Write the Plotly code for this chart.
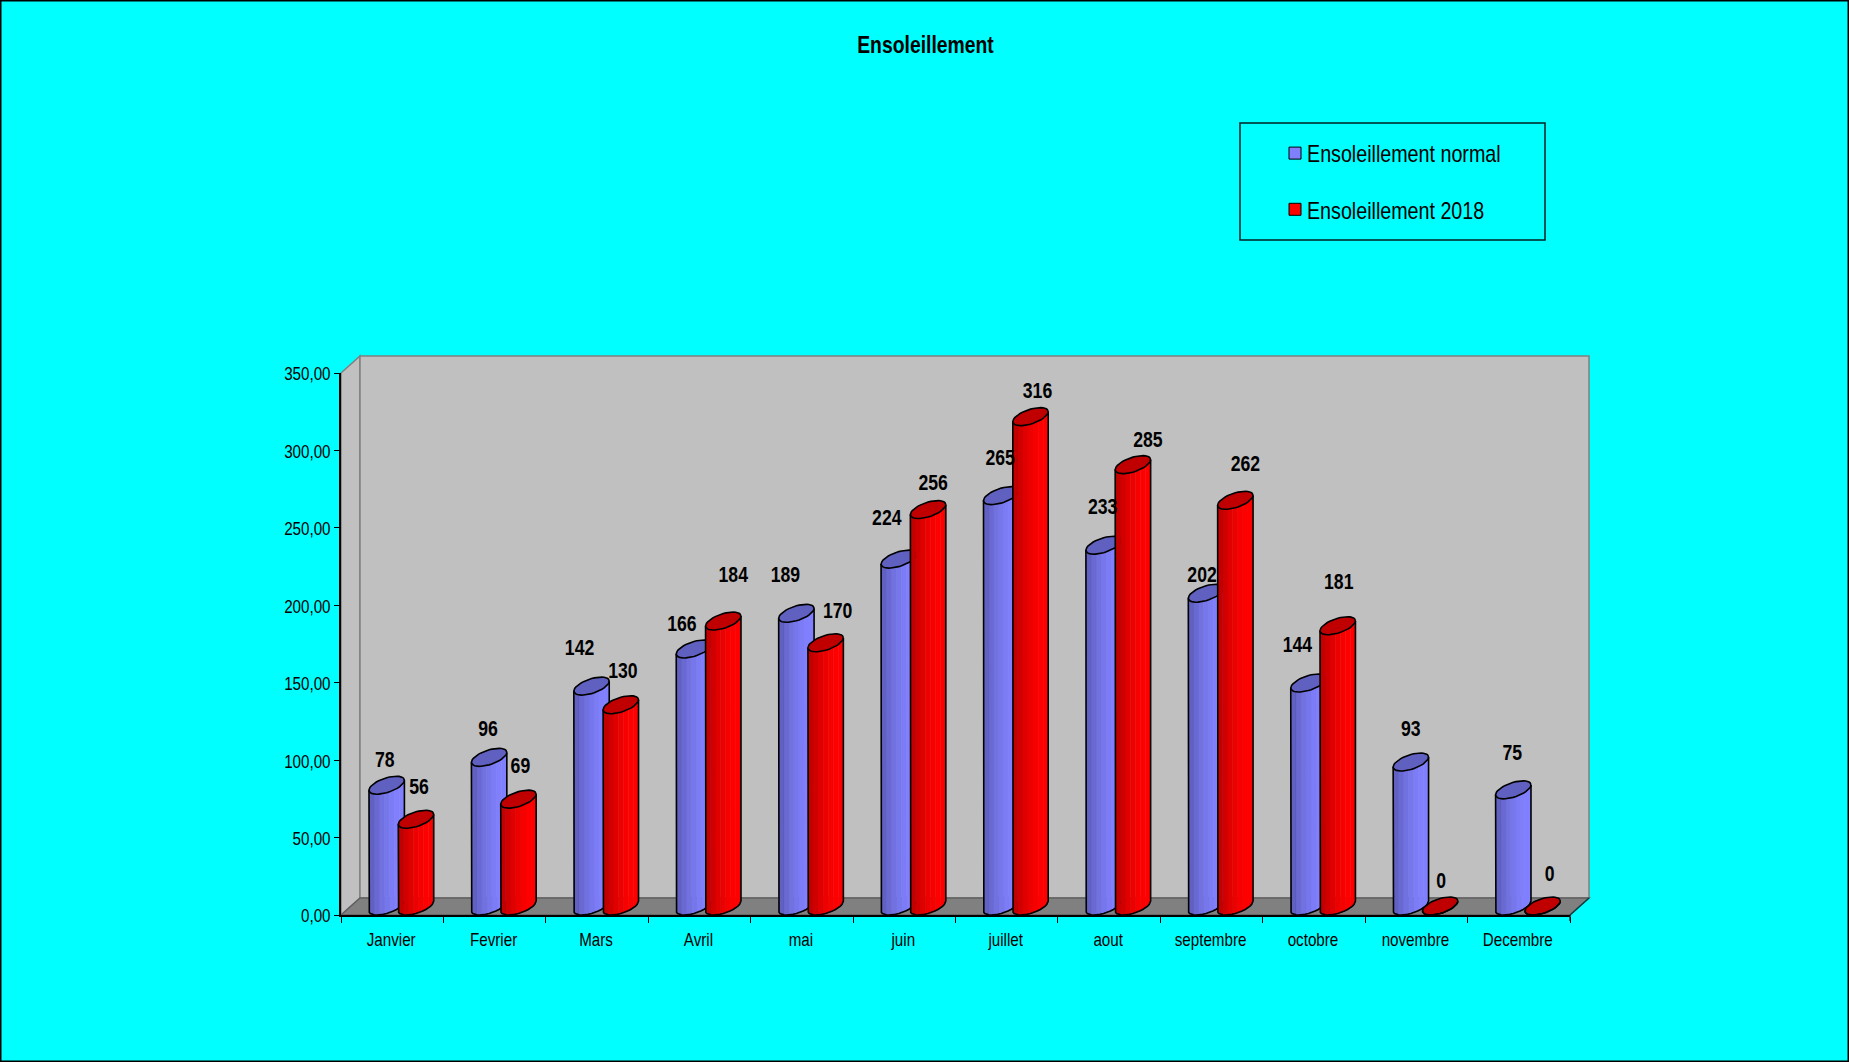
import math
import plotly.graph_objects as go

MONTHS = ["Janvier", "Fevrier", "Mars", "Avril", "mai", "juin", "juillet", "aout",
          "septembre", "octobre", "novembre", "Decembre"]
NORMAL = [78, 96, 142, 166, 189, 224, 265, 233, 202, 144, 93, 75]
Y2018 = [56, 69, 130, 184, 170, 256, 316, 285, 262, 181, 0, 0]
Y_TICKS = [0, 50, 100, 150, 200, 250, 300, 350]

# label offsets from each cylinder (pixels: right, up)
NORMAL_LABEL_DX = [-2, -1, -12, -12, -11, -12, -1, -1, -4, -11, 0, -1]
NORMAL_LABEL_DY = [33, 36, 45, 32, 46, 48, 45, 46, 26, 45, 40, 44]
Y2018_LABEL_DX = [3, 2, 2, 10, 12, 5, 7, 15, 10, 1, 1, 7]
Y2018_LABEL_DY = [40, 41, 41, 53, 39, 34, 33, 32, 44, 51, 32, 39]

W, H = 1849, 1062
L, R, T, B = 341, 1570, 373, 915      # plot area in pixels
DEPTH_X, DEPTH_Y = 19, 17             # depth of the 3D box
PW, PH = R - L, B - T
YMAX = 350
FONT = "Liberation Sans"


def px(x):
    return (x - L) / PW


def py(y):
    return (B - y) / PH


UX = PW / 12            # pixels per category
UY = PH / YMAX          # pixels per value unit
A = 17.7 / UX           # half width of a cylinder, x units
CAP_H = 9 / UY          # half height of the cap, y units
PHI = math.acos(0.55)   # slant of the cap


def arc(cx, base, t0, t1, n=8):
    xs, ys = [], []
    for k in range(n + 1):
        t = t0 + (t1 - t0) * k / n
        xs.append(cx + A * math.cos(t))
        ys.append(base + CAP_H + CAP_H * math.cos(t - PHI))
    return xs, ys


def t_of(frac):
    """Front-arc angle at a fraction of the width, left to right."""
    return 2 * math.pi - math.acos(1 - 2 * frac)


def mix(color, f):
    return "rgb(%d,%d,%d)" % tuple(round(c * f) for c in color)


SHADE = [1, 1, .97, .93, .88, .82, .76]
N_STRIPS = len(SHADE)


def cylinders(values, pos, color, cap_color, name, width_frac=0.2):
    traces = []
    traces.append(go.Bar(
        x=[i + pos - 0.55 * A for i in range(12)], y=values, width=2 * A * width_frac,
        name=name, legendgroup=name, marker=dict(color=mix(color, 1), line=dict(color="black", width=1)),
        customdata=MONTHS, hovertemplate="%{customdata}: %{y}<extra>" + name + "</extra>"))
    for s in range(N_STRIPS):
        xs, ys = [], []
        for i, v in enumerate(values):
            cx = i + pos
            t0, t1 = t_of(s / N_STRIPS), t_of((s + 1) / N_STRIPS)
            ax, ay = arc(cx, 0, t0, t1, 4)
            bx, by = arc(cx, v, t1, t0, 4)
            xs += ax + bx + [ax[0], None]
            ys += ay + by + [ay[0], None]
        traces.append(go.Scatter(x=xs, y=ys, mode="lines", fill="toself",
                                 fillcolor=mix(color, SHADE[s]),
                                 line=dict(width=0.4, color=mix(color, SHADE[s])),
                                 hoverinfo="skip", showlegend=False, cliponaxis=False))
    # cap fill and outlines
    xs, ys, ox, oy = [], [], [], []
    for i, v in enumerate(values):
        cx = i + pos
        ex, ey = arc(cx, v, 0, 2 * math.pi, 40)
        xs += ex + [None]
        ys += ey + [None]
        fx, fy = arc(cx, 0, math.pi, 2 * math.pi, 16)
        ox += [ex[20]] + fx + [ex[0], None]
        oy += [ey[20]] + fy + [ey[0], None]
    traces.append(go.Scatter(x=xs, y=ys, mode="lines", fill="toself", fillcolor=cap_color,
                             line=dict(color="black", width=1.6), hoverinfo="skip",
                             showlegend=False, cliponaxis=False))
    traces.append(go.Scatter(x=ox, y=oy, mode="lines", line=dict(color="black", width=1.6),
                             hoverinfo="skip", showlegend=False, cliponaxis=False))
    return traces


def labels(values, pos, dx, dy):
    return go.Scatter(
        x=[i + pos + dx[i] / UX for i in range(12)],
        y=[values[i] + dy[i] / UY for i in range(12)],
        text=[str(v) for v in values], mode="text", textposition="middle center",
        textfont=dict(family=FONT, size=21.5, color="black", weight="bold"),
        hoverinfo="skip", showlegend=False, cliponaxis=False)


POS_NORMAL, POS_2018 = 45.7 / UX, 75 / UX

fig = go.Figure()
fig.add_traces(cylinders(NORMAL, POS_NORMAL, (128, 128, 255), "#6060C0", "Ensoleillement normal"))
fig.add_traces(cylinders(Y2018, POS_2018, (255, 0, 0), "#C00000", "Ensoleillement 2018"))
fig.add_trace(labels(NORMAL, POS_NORMAL, NORMAL_LABEL_DX, NORMAL_LABEL_DY))
fig.add_trace(labels(Y2018, POS_2018, Y2018_LABEL_DX, Y2018_LABEL_DY))


def poly(points, fill, line, width=1.5, layer="below"):
    path = "M " + " L ".join(f"{px(x):.5f},{py(y):.5f}" for x, y in points) + " Z"
    return dict(type="path", xref="paper", yref="paper", path=path, fillcolor=fill,
                line=dict(color=line, width=width), layer=layer)


wall_l, wall_r = L + DEPTH_X, R + DEPTH_X
wall_t, wall_b = T - DEPTH_Y, B - DEPTH_Y
shapes = [
    poly([(L, T), (wall_l, wall_t), (wall_l, wall_b), (L, B)], "#C0C0C0", "#808080"),
    poly([(wall_l, wall_t), (wall_r, wall_t), (wall_r, wall_b), (wall_l, wall_b)], "#C0C0C0", "#808080"),
    poly([(L, B), (wall_l, wall_b), (wall_r, wall_b), (R, B)], "#808080", "#606060"),
    dict(type="line", xref="paper", yref="paper", x0=px(R), y0=py(B), x1=px(wall_r), y1=py(wall_b),
         line=dict(color="#004040", width=1.2), layer="below"),
    dict(type="line", xref="paper", yref="paper", x0=px(R), y0=py(B), x1=px(R), y1=py(B + 6),
         line=dict(color="black", width=1.2), layer="below"),
    # legend box
    poly([(1240, 123), (1545, 123), (1545, 240), (1240, 240)], "rgba(0,0,0,0)", "#002020", 1.5),
    # outer frame
    poly([(0.5, 0.5), (W - 0.5, 0.5), (W - 0.5, H - 0.5), (0.5, H - 0.5)], "rgba(0,0,0,0)", "black", 2),
]

fig.update_layout(
    width=W, height=H, autosize=False,
    margin=dict(l=L, r=W - R, t=T, b=H - B, pad=0),
    paper_bgcolor="#00FFFF", plot_bgcolor="rgba(0,0,0,0)",
    separators=", ",
    font=dict(family=FONT, size=18.5, color="black"),
    title=dict(text="<b>Ensoleillement</b>", x=925.5 / W, xanchor="center",
               y=1 - 45 / H, yanchor="middle", font=dict(family=FONT, size=23.6, color="black")),
    barmode="overlay",
    showlegend=True,
    legend=dict(x=px(1267), y=py(131), xanchor="left", yanchor="top",
                bgcolor="rgba(0,0,0,0)", borderwidth=0, traceorder="grouped",
                tracegroupgap=22, font=dict(family=FONT, size=24, color="black")),
    shapes=shapes,
    xaxis=dict(range=[0, 12], tickmode="array", tickvals=[i + 0.5 for i in range(12)],
               ticktext=MONTHS, ticks="", ticklabelstandoff=7, ticklabelshift=-1,
               showgrid=False, zeroline=False,
               showline=True, linecolor="black", linewidth=1.5, tickangle=0, tickfont=dict(size=18.5),
               minor=dict(tickmode="array", tickvals=list(range(13)), ticks="outside",
                          ticklen=6, tickwidth=1.2, tickcolor="black", showgrid=False)),
    yaxis=dict(range=[0, YMAX], tickmode="array", tickvals=Y_TICKS, tickformat=".2f",
               ticklabelshift=1,
               ticks="outside", ticklen=5, tickwidth=1.2, tickcolor="black", showgrid=False,
               zeroline=False, showline=True, linecolor="black", linewidth=1.5, tickfont=dict(size=18.5)),
)

# The reference's text is a horizontally condensed sans; squeeze the real text to that width.
POST = """
document.body.style.margin='0';document.body.style.overflow='hidden';
document.querySelectorAll('svg.main-svg text').forEach(function(t){
  var w=t.getComputedTextLength();
  if(w>0){t.setAttribute('textLength',(w*0.82).toFixed(1));t.setAttribute('lengthAdjust','spacingAndGlyphs');}
});
document.querySelectorAll('.legend .legendpoints').forEach(function(g){
  g.setAttribute('transform',(g.getAttribute('transform')||'')+' translate(8,0)');
});
"""

fig.write_html("out.html", config={"displayModeBar": False}, post_script=POST)
